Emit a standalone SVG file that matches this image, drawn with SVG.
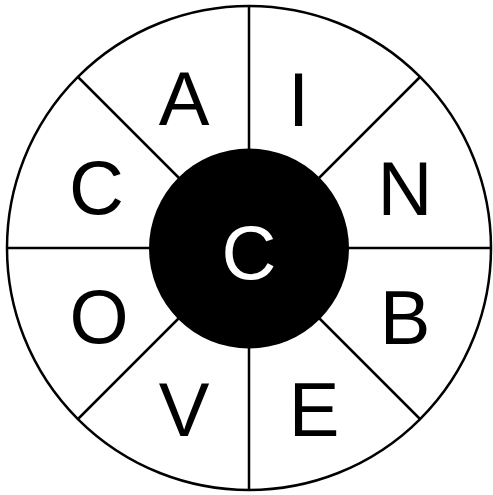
<svg xmlns="http://www.w3.org/2000/svg" width="493" height="495" viewBox="0 0 493 495">
<style>
.ln{stroke:#000;stroke-width:2.5;fill:none}
.t{font-family:"Liberation Sans",Arial,sans-serif;font-size:76px;text-anchor:middle;fill:#000}
.w{fill:#fff}
</style>
<rect width="493" height="495" fill="#fff"/>
<g id="connectors">
<circle class="ln" cx="249" cy="248" r="242"/>
<line class="ln" x1="249" y1="6" x2="249" y2="490"/>
<line class="ln" x1="7" y1="248" x2="491" y2="248"/>
<line class="ln" x1="78" y1="77" x2="420" y2="419"/>
<line class="ln" x1="420" y1="77" x2="78" y2="419"/>
</g>
<g id="center"><circle cx="249" cy="248.5" r="100" fill="#000"/><text class="t w" x="249" y="279">C</text></g>
<g id="nA"><text class="t" x="184" y="125">A</text></g>
<g id="nI"><text class="t" x="298.5" y="126">I</text></g>
<g id="nN"><text class="t" x="405" y="215">N</text></g>
<g id="nB"><text class="t" x="405" y="344">B</text></g>
<g id="nE"><text class="t" x="314" y="436">E</text></g>
<g id="nV"><text class="t" x="184" y="436">V</text></g>
<g id="nO"><text class="t" x="99" y="343">O</text></g>
<g id="nC"><text class="t" x="96.5" y="214">C</text></g>
</svg>
